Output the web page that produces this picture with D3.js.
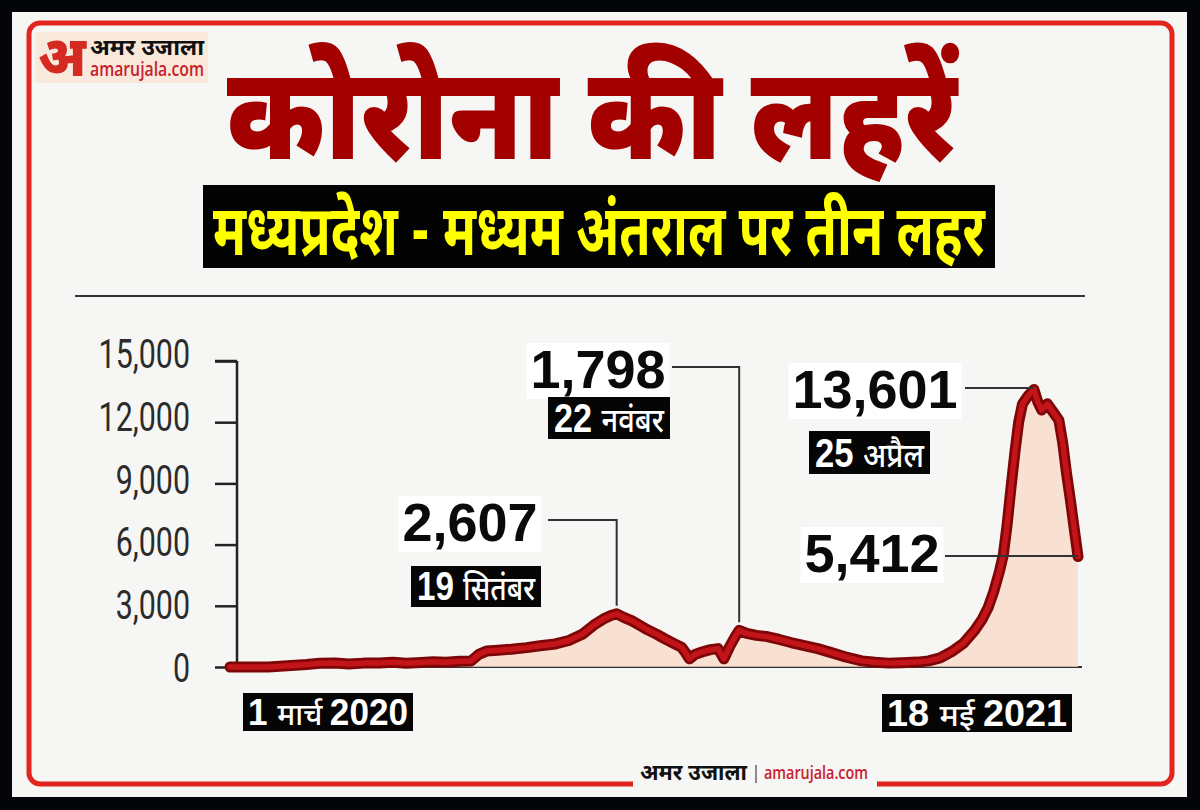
<!DOCTYPE html>
<html><head><meta charset="utf-8">
<script src="https://cdn.jsdelivr.net/npm/d3@7"></script>
<style>body{margin:0;background:#000;} svg{display:block}</style>
</head><body><svg id="c" width="1200" height="810"></svg>
<script>
// ---------- data ----------
const dates = ["2020-03-01","2020-03-21","2020-03-31","2020-04-10","2020-04-17","2020-04-25","2020-05-02","2020-05-10","2020-05-18","2020-05-25","2020-06-01","2020-06-09","2020-06-15","2020-06-22","2020-06-29","2020-07-05","2020-07-09","2020-07-13","2020-07-19","2020-07-26","2020-08-03","2020-08-10","2020-08-18","2020-08-25","2020-09-01","2020-09-07","2020-09-12","2020-09-16","2020-09-19","2020-09-23","2020-09-27","2020-10-01","2020-10-05","2020-10-10","2020-10-14","2020-10-19","2020-10-23","2020-10-25","2020-10-27","2020-10-30","2020-11-03","2020-11-07","2020-11-11","2020-11-14","2020-11-17","2020-11-20","2020-11-22","2020-11-26","2020-12-01","2020-12-06","2020-12-13","2020-12-19","2020-12-26","2021-01-02","2021-01-10","2021-01-17","2021-01-25","2021-02-01","2021-02-08","2021-02-15","2021-02-23","2021-03-01","2021-03-07","2021-03-13","2021-03-19","2021-03-25","2021-03-29","2021-04-01","2021-04-04","2021-04-07","2021-04-09","2021-04-11","2021-04-13","2021-04-15","2021-04-17","2021-04-19","2021-04-22","2021-04-25","2021-04-27","2021-04-29","2021-05-02","2021-05-05","2021-05-08","2021-05-10","2021-05-12","2021-05-14","2021-05-16","2021-05-18"];
const cases = [0,5,60,120,180,200,150,190,200,230,180,220,260,230,280,300,620,780,820,870,950,1040,1130,1300,1600,2050,2350,2520,2607,2420,2260,2050,1830,1600,1390,1150,960,700,400,620,750,850,900,400,1000,1500,1798,1650,1550,1500,1350,1200,1050,900,680,480,300,230,190,210,240,300,450,750,1150,1800,2350,2900,3700,4700,5500,7000,8800,10500,12000,12900,13300,13601,13000,12600,12900,12500,12100,11000,9500,8200,6800,5412];
const yTicks = [0,3000,6000,9000,12000,15000];
const titleText = "कोरोना की लहरें";
const subtitleText = "मध्यप्रदेश - मध्यम अंतराल पर तीन लहर";
const peakDates = ["2020-09-19","2020-11-22","2021-04-25","2021-05-18"];
const peakValues = [2607,1798,13601,5412];
const peakLabels = ["2,607","1,798","13,601","5,412"];
const peakDateNums = ["19","22","25",""];
const peakDateMonths = ["सितंबर","नवंबर","अप्रैल",""];
const endLabels = [["1","मार्च","2020"],["18","मई","2021"]];
const brandHindi = "अमर उजाला";
const brandWeb = "amarujala.com";

// ---------- setup ----------
const svg = d3.select("#c");
const parse = d3.timeParse("%Y-%m-%d");
const series = dates.map((d,i)=>({date:parse(d), v:cases[i]}));
const DEV = "'Noto Sans Devanagari','Noto Sans','Lohit Devanagari',sans-serif";
const NUM = "'Liberation Sans',Arial,sans-serif";

svg.append("rect").attr("x",0).attr("y",0).attr("width",1200).attr("height",810).attr("fill","#030508");
svg.append("rect").attr("x",12).attr("y",12).attr("width",1175).attr("height",785).attr("fill","#f6f6f4");
svg.append("rect").attr("x",29).attr("y",23).attr("width",1143).attr("height",761).attr("rx",11)
   .attr("fill","none").attr("stroke","#e2261f").attr("stroke-width",5);

// top-left logo
const lg = svg.append("g");
lg.append("rect").attr("x",35).attr("y",32).attr("width",173).attr("height",51).attr("fill","#f9e9dc");
lg.append("text").attr("x",38).attr("y",76).attr("font-family",DEV).attr("font-weight",900)
  .attr("font-size",56).attr("fill","#d42a22").attr("textLength",48).attr("lengthAdjust","spacingAndGlyphs").text("अ");
lg.append("text").attr("x",90).attr("y",55).attr("font-family",DEV).attr("font-weight",700)
  .attr("font-size",22).attr("fill","#111").attr("textLength",114).attr("lengthAdjust","spacingAndGlyphs").text(brandHindi);
lg.append("text").attr("x",90).attr("y",76).attr("font-family","'Open Sans',sans-serif").attr("font-weight",600)
  .attr("font-size",19).attr("fill","#c8202a").attr("textLength",114).attr("lengthAdjust","spacingAndGlyphs").text(brandWeb);

// title
svg.append("text").attr("x",227).attr("y",159).attr("font-family",DEV).attr("font-weight",900)
  .attr("font-size",130).attr("fill","#a30000").attr("textLength",730).attr("lengthAdjust","spacingAndGlyphs").text(titleText);

// subtitle
svg.append("rect").attr("x",203).attr("y",185).attr("width",792).attr("height",83).attr("fill","#030303");
svg.append("text").attr("x",213).attr("y",255).attr("font-family",DEV).attr("font-weight",700)
  .attr("font-size",70).attr("fill","#ffff00").attr("textLength",772).attr("lengthAdjust","spacingAndGlyphs").text(subtitleText);

// rule
svg.append("line").attr("x1",75).attr("x2",1085).attr("y1",296).attr("y2",296).attr("stroke","#333").attr("stroke-width",2);

// ---------- scales ----------
const x = d3.scaleTime().domain([parse("2020-03-01"), parse("2021-05-18")]).range([230,1078]);
const y = d3.scaleLinear().domain([0,15000]).range([667,361]);
const yLab = d3.scaleLinear().domain([0,15000]).range([667,353]);

// axes
const ax = svg.append("g").attr("transform","translate(237,0)")
  .call(d3.axisLeft(y).tickValues(yTicks).tickSize(22).tickFormat(""));
ax.selectAll("path,line").attr("stroke","#222").attr("stroke-width",2.5);
ax.select(".domain").attr("d","M0,"+y(15000)+"H-22M0,"+y(15000)+"V"+y(0));
const axl = svg.append("g").attr("transform","translate(190,0)")
  .call(d3.axisLeft(yLab).tickValues(yTicks).tickSize(0).tickPadding(0).tickFormat(d3.format(",")));
axl.select(".domain").remove();
axl.selectAll("text").attr("font-family","Roboto,sans-serif").attr("font-size",40).attr("font-weight",400)
  .attr("fill","#2b2b2b").attr("dy","0.36em")
  .each(function(){ const w=this.getComputedTextLength(); d3.select(this).attr("textLength",w*0.76).attr("lengthAdjust","spacingAndGlyphs"); });
svg.append("line").attr("x1",237).attr("x2",1082).attr("y1",y(0)).attr("y2",y(0)).attr("stroke","#333").attr("stroke-width",2);

// area + line
svg.append("path").datum(series)
  .attr("d", d3.area().x(d=>x(d.date)).y0(y(0)).y1(d=>y(d.v)))
  .attr("fill","#f8d9c8").attr("opacity",0.75);
const lineGen = d3.line().x(d=>x(d.date)).y(d=>y(d.v));
svg.append("path").datum(series).attr("d",lineGen).attr("fill","none")
  .attr("stroke","#7e0606").attr("stroke-width",11).attr("stroke-linejoin","round").attr("stroke-linecap","round");
svg.append("path").datum(series).attr("d",lineGen).attr("fill","none")
  .attr("stroke","#c3141a").attr("stroke-width",5.5).attr("stroke-linejoin","round").attr("stroke-linecap","round");

// ---------- annotations ----------
const annLayout = [
  {tx:470, ty:541, lx1:548, ly:520, vdrop:8, bx:411, by:566, bw:130, bh:41},
  {tx:598, ty:388, lx1:672, ly:367, vdrop:8, bx:548, by:397, bw:122, bh:42},
  {tx:875, ty:408, lx1:965, ly:388, vdrop:null, bx:809, by:431, bw:121, bh:43},
  {tx:872, ty:572, lx1:945, ly:556, vdrop:null}
];
peakLabels.forEach((lab,i)=>{
  const L = annLayout[i];
  const px = x(parse(peakDates[i])), py = y(peakValues[i]);
  let d = "M"+L.lx1+","+L.ly+"H"+px;
  if (L.vdrop!==null) d += "V"+(py - L.vdrop);
  svg.append("path").attr("d",d).attr("fill","none").attr("stroke","#333").attr("stroke-width",2);
  const t = svg.append("text").attr("x",L.tx).attr("y",L.ty).attr("text-anchor","middle")
    .attr("font-family",NUM).attr("font-weight",700).attr("font-size",54).attr("fill","#0a0a0a").text(lab);
  const bb = t.node().getBBox();
  svg.insert("rect", () => t.node()).attr("x",bb.x-4).attr("y",bb.y+4).attr("width",bb.width+8).attr("height",bb.height-4).attr("fill","#fff");
  if (peakDateNums[i]) {
    svg.append("rect").attr("x",L.bx).attr("y",L.by).attr("width",L.bw).attr("height",L.bh).attr("fill","#050505");
    const dt = svg.append("text").attr("x",L.bx+6).attr("y",L.by+L.bh-7).attr("fill","#fff")
      .attr("textLength",L.bw-12).attr("lengthAdjust","spacingAndGlyphs");
    dt.append("tspan").attr("font-family",NUM).attr("font-weight",700).attr("font-size",40).text(peakDateNums[i]+" ");
    dt.append("tspan").attr("font-family",DEV).attr("font-weight",500).attr("font-size",34).text(peakDateMonths[i]);
  }
});

// start/end date boxes
const endLayout = [{bx:243,by:693,bw:170,bh:38},{bx:882,by:694,bw:190,bh:38}];
endLabels.forEach((parts,i)=>{
  const L = endLayout[i];
  svg.append("rect").attr("x",L.bx).attr("y",L.by).attr("width",L.bw).attr("height",L.bh).attr("fill","#050505");
  const t = svg.append("text").attr("x",L.bx+5).attr("y",L.by+L.bh-6).attr("fill","#fff")
    .attr("textLength",L.bw-10).attr("lengthAdjust","spacingAndGlyphs");
  t.append("tspan").attr("font-family",NUM).attr("font-weight",700).attr("font-size",36).text(parts[0]+" ");
  t.append("tspan").attr("font-family",DEV).attr("font-weight",500).attr("font-size",30).text(parts[1]+" ");
  t.append("tspan").attr("font-family",NUM).attr("font-weight",700).attr("font-size",36).text(parts[2]);
});

// bottom logo
svg.append("rect").attr("x",633).attr("y",757).attr("width",244).attr("height",32).attr("fill","#f6f6f4");
svg.append("text").attr("x",640).attr("y",780).attr("font-family",DEV).attr("font-weight",700)
  .attr("font-size",22).attr("fill","#111").attr("textLength",107).attr("lengthAdjust","spacingAndGlyphs").text(brandHindi);
svg.append("line").attr("x1",756).attr("x2",756).attr("y1",765).attr("y2",783).attr("stroke","#444").attr("stroke-width",1.2);
svg.append("text").attr("x",764).attr("y",779).attr("font-family","'Open Sans',sans-serif").attr("font-weight",600)
  .attr("font-size",18).attr("fill","#c8202a").attr("textLength",104).attr("lengthAdjust","spacingAndGlyphs").text(brandWeb);
</script></body></html>
